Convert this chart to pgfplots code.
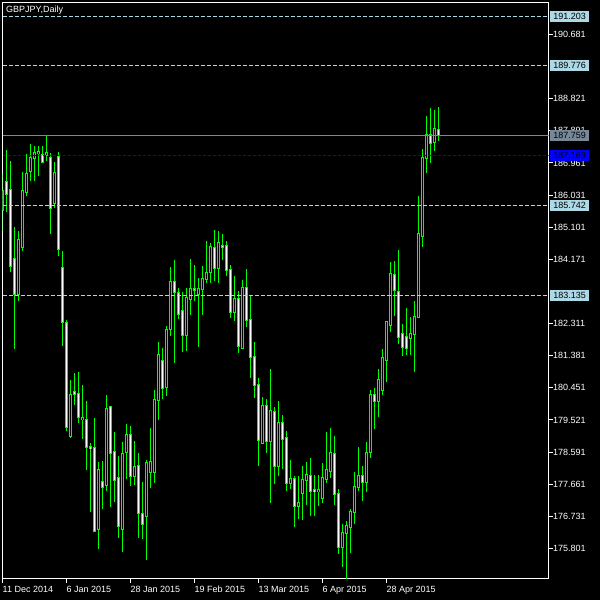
\documentclass[border=0pt]{standalone}
\usepackage{pgfplots}
\pgfplotsset{compat=1.18}
\usepackage{pgfplotstable}
\usepackage{fontspec}
\setmainfont{Liberation Sans}
\definecolor{cgreen}{RGB}{0,255,0}
\definecolor{lblue}{RGB}{173,216,230}
\definecolor{lsgray}{RGB}{119,136,153}
\definecolor{cblue}{RGB}{0,0,255}
\newcommand{\mtfont}{\fontsize{9bp}{10bp}\selectfont}

\pgfplotstableread{
x o h l c
0 185.585 186.656 185.006 186.164
1 186.425 187.351 185.556 186.048
2 186.193 187.033 183.819 183.964
3 184.195 185.093 181.561 183.153
4 183.153 185.006 182.979 184.745
5 184.514 186.714 184.398 186.164
6 186.106 187.235 186.019 186.656
7 186.714 187.525 186.454 187.120
8 187.091 187.467 186.454 187.264
9 187.235 187.438 186.598 187.293
10 187.206 187.438 186.946 186.975
11 187.177 187.785 187.033 187.264
12 187.120 187.264 184.919 185.643
13 185.788 187.004 185.672 186.685
14 187.149 187.293 184.282 184.456
15 183.935 184.427 181.677 182.342
16 182.342 182.429 179.216 179.303
17 179.042 180.692 179.013 180.258
18 180.345 180.866 179.968 180.258
19 180.287 180.924 179.447 179.592
20 179.534 180.547 178.984 179.592
21 179.534 180.084 178.087 178.724
22 178.752 178.868 176.842 178.695
23 178.724 179.592 176.292 176.292
24 176.349 178.318 175.799 178.087
25 177.739 178.347 176.957 177.565
26 177.623 180.258 177.479 179.853
27 179.911 179.911 177.015 178.550
28 178.608 179.187 177.160 177.768
29 177.855 178.492 176.118 176.436
30 176.349 178.897 175.712 178.550
31 178.579 179.418 177.826 179.100
32 179.100 179.360 177.623 177.884
33 177.884 178.926 177.652 178.173
34 178.202 178.550 176.089 176.813
35 176.813 177.739 176.089 176.494
36 176.726 178.376 175.481 178.289
37 178.000 179.274 177.565 178.318
38 178.000 180.403 177.710 180.113
39 180.084 181.792 179.534 181.416
40 181.242 181.619 180.142 180.432
41 180.461 182.256 180.229 182.140
42 182.140 183.964 181.966 183.530
43 183.530 184.166 181.184 183.211
44 183.211 183.356 182.458 182.574
45 182.690 183.211 181.474 181.966
46 181.966 183.356 181.532 183.066
47 183.008 184.195 182.574 183.327
48 183.327 184.022 182.979 183.283
49 183.153 183.645 181.648 183.327
50 183.298 183.993 182.574 183.616
51 183.587 184.717 183.501 183.790
52 183.790 184.659 183.501 184.543
53 184.514 185.006 183.558 183.906
54 183.906 185.006 183.501 184.659
55 184.572 184.919 184.138 184.514
56 184.572 184.717 183.703 183.848
57 183.877 183.993 182.487 182.632
58 182.632 183.703 182.400 183.037
59 183.037 183.240 181.445 181.648
60 181.590 183.587 181.590 183.356
61 183.356 183.906 182.227 182.400
62 182.429 183.153 180.750 181.329
63 181.358 181.792 180.171 180.518
64 180.547 180.750 178.202 178.926
65 178.839 180.200 178.839 179.939
66 179.939 180.142 178.550 178.897
67 178.897 181.011 177.131 179.795
68 179.766 179.911 177.681 178.173
69 178.173 180.084 177.913 179.447
70 179.447 179.679 178.116 178.955
71 179.013 179.216 177.479 177.681
72 177.681 178.376 177.508 177.826
73 177.826 177.913 176.436 177.015
74 177.015 177.913 176.668 177.131
75 177.392 178.202 176.639 177.797
76 177.768 178.318 177.073 177.942
77 177.913 178.434 176.755 177.450
78 177.508 177.942 176.755 177.450
79 177.450 177.942 177.044 177.508
80 177.247 178.289 177.131 177.855
81 177.797 179.187 177.710 178.087
82 178.029 179.303 177.855 178.579
83 178.550 179.071 177.073 177.363
84 177.392 177.536 175.655 175.828
85 175.828 176.523 175.278 176.263
86 176.234 176.610 174.931 176.465
87 176.407 176.957 175.684 176.871
88 176.842 178.029 176.523 177.594
89 177.565 178.724 177.450 177.913
90 177.913 178.202 177.189 177.710
91 177.710 178.897 177.450 178.579
92 178.579 180.403 178.434 180.258
93 180.258 180.461 179.274 180.055
94 180.055 181.011 179.621 180.692
95 180.374 181.590 180.258 181.329
96 181.242 182.400 180.634 182.371
97 182.256 184.109 182.082 183.761
98 183.732 184.138 182.545 183.269
99 183.240 184.456 181.735 181.908
100 182.024 182.285 181.387 181.619
101 181.937 182.777 181.416 181.590
102 181.879 182.516 181.416 182.024
103 181.995 182.979 180.924 182.516
104 182.487 186.019 182.487 184.919
105 184.832 187.380 184.543 187.120
106 187.091 188.336 186.685 187.785
107 187.785 188.567 186.975 187.525
108 187.554 188.509 187.322 187.959
109 187.930 188.596 187.612 187.759
}\candles

\pgfplotsset{candle/.style={only marks, forget plot, mark options={draw opacity=0, fill opacity=0},
  error bars/y dir=both, error bars/y explicit, error bars/error mark=none}}

\begin{document}
\begin{tikzpicture}
\fill[black] (0,0) rectangle (600bp,600bp);
\useasboundingbox (0,0) rectangle (600bp,600bp);
\begin{axis}[
  at={(2.5bp,21.5bp)}, anchor=south west,
  scale only axis, width=546bp, height=576bp,
  xmin=0, xmax=136.5, ymin=174.931, ymax=191.607,
  axis line style={white, line width=1bp},
  clip mode=individual,
  xtick={0,16,32,48,64,80,96},
  xticklabels={11 Dec 2014, 6 Jan 2015, 28 Jan 2015, 19 Feb 2015, 13 Mar 2015, 6 Apr 2015, 28 Apr 2015},
  ytick={175.801,176.731,177.661,178.591,179.521,180.451,181.381,182.311,184.171,185.101,186.031,186.961,187.891,188.821,190.681},
  yticklabels={175.801,176.731,177.661,178.591,179.521,180.451,181.381,182.311,184.171,185.101,186.031,186.961,187.891,188.821,190.681},
  xtick pos=bottom, ytick pos=right, yticklabel pos=right,
  tick align=outside, major tick length=4bp,
  tick style={white, line width=1bp},
  tick label style={font=\mtfont, text=white},
  xticklabel style={anchor=base west, inner sep=0pt, yshift=-10bp},
  yticklabel style={anchor=west, inner sep=0pt, xshift=0.5bp},
]
% wicks
\addplot[candle, error bars/error bar style={color=cgreen, line width=1bp}]
  table[x=x, y expr={(\thisrow{h}+\thisrow{l})/2}, y error expr={(\thisrow{h}-\thisrow{l})/2}] {\candles};
% body outlines
\addplot[candle, error bars/error bar style={color=cgreen, line width=3bp}]
  table[x=x, y expr={(\thisrow{o}+\thisrow{c})/2}, y error expr={abs(\thisrow{o}-\thisrow{c})/2+0.0145}] {\candles};
% bull fills (black)
\addplot[candle, restrict expr to domain={\thisrow{c}-\thisrow{o}}{0.0001:1000},
  error bars/error bar style={color=black, line width=1bp}]
  table[x=x, y expr={(\thisrow{o}+\thisrow{c})/2}, y error expr={max(abs(\thisrow{o}-\thisrow{c})/2-0.0145,0)}] {\candles};
% bear fills (white)
\addplot[candle, restrict expr to domain={\thisrow{o}-\thisrow{c}}{0:1000},
  error bars/error bar style={color=white, line width=1bp}]
  table[x=x, y expr={(\thisrow{o}+\thisrow{c})/2}, y error expr={max(abs(\thisrow{o}-\thisrow{c})/2-0.0145,0)}] {\candles};
% level lines
\addplot[lblue, line width=1bp, dash pattern=on 4bp off 2bp] coordinates {(0,191.203) (136.5,191.203)};
\addplot[lblue, line width=1bp, dash pattern=on 4bp off 2bp] coordinates {(0,189.776) (136.5,189.776)};
\addplot[lblue, line width=1bp, dash pattern=on 4bp off 2bp] coordinates {(0,185.742) (136.5,185.742)};
\addplot[lblue, line width=1bp, dash pattern=on 4bp off 2bp] coordinates {(0,183.135) (136.5,183.135)};
\addplot[cblue, line width=1bp, dash pattern=on 3bp off 2bp] coordinates {(0,187.169) (136.5,187.169)};
\addplot[lsgray, line width=1bp] coordinates {(0,187.759) (136.5,187.759)};
\coordinate (L1) at (axis cs:136.5,191.203);
\coordinate (L2) at (axis cs:136.5,189.776);
\coordinate (L3) at (axis cs:136.5,185.742);
\coordinate (L4) at (axis cs:136.5,183.135);
\coordinate (L5) at (axis cs:136.5,187.169);
\coordinate (L6) at (axis cs:136.5,187.759);
\end{axis}
\tikzset{lvl/.style={anchor=west, inner xsep=2bp, inner ysep=0pt, minimum height=11bp, minimum width=39bp, text=black, font=\mtfont}}
\node[lvl, fill=lblue] at ([xshift=1.5bp]L1) {191.203};
\node[lvl, fill=lblue] at ([xshift=1.5bp]L2) {189.776};
\node[lvl, fill=lblue] at ([xshift=1.5bp]L3) {185.742};
\node[lvl, fill=lblue] at ([xshift=1.5bp]L4) {183.135};
\node[lvl, fill=cblue] at ([xshift=1.5bp]L5) {187.169};
\node[lvl, fill=lsgray] at ([xshift=1.5bp]L6) {187.759};
\node[anchor=north west, inner sep=0pt, text=white, font=\mtfont] at (6bp,594bp) {GBPJPY,Daily};
\end{tikzpicture}
\end{document}
